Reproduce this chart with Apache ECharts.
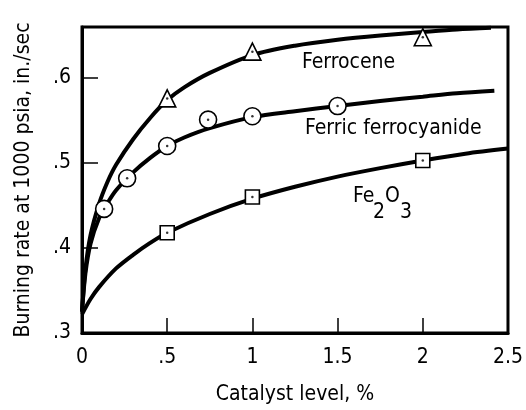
<!DOCTYPE html>
<html>
<head>
<meta charset="utf-8">
<script src="https://cdn.jsdelivr.net/npm/echarts@6/dist/echarts.min.js"></script>
<style>
  html, body { margin: 0; padding: 0; background: #fff; }
  #chart { width: 526px; height: 410px; }
</style>
</head>
<body>
<div id="chart"></div>
<script>
// Measured burning rates (in./sec at 1000 psia) versus catalyst level (%)
const ferroceneX = [0.5, 1.0, 2.0];
const ferroceneY = [0.576, 0.631, 0.648];

const ferricX = [0.13, 0.265, 0.5, 0.74, 1.0, 1.5];
const ferricY = [0.446, 0.482, 0.52, 0.551, 0.555, 0.567];

const feOxideX = [0.5, 1.0, 2.0];
const feOxideY = [0.418, 0.46, 0.503];

// Faired curves through each catalyst's data
const ferroceneCurveX = [0, 0.02, 0.05, 0.1, 0.15, 0.2, 0.3, 0.4, 0.5, 0.6, 0.75, 1.0, 1.25, 1.5, 1.75, 2.0, 2.2, 2.4];
const ferroceneCurveY = [0.325, 0.375, 0.415, 0.452, 0.478, 0.498, 0.528, 0.553, 0.574, 0.589, 0.606, 0.627, 0.638, 0.645, 0.65, 0.654, 0.657, 0.659];

const ferricCurveX = [0, 0.02, 0.05, 0.1, 0.15, 0.2, 0.3, 0.4, 0.5, 0.6, 0.75, 1.0, 1.25, 1.5, 1.75, 2.0, 2.2, 2.42];
const ferricCurveY = [0.325, 0.37, 0.405, 0.435, 0.453, 0.468, 0.489, 0.506, 0.52, 0.53, 0.541, 0.554, 0.561, 0.567, 0.573, 0.578, 0.582, 0.585];

const feOxideCurveX = [0, 0.05, 0.1, 0.2, 0.3, 0.4, 0.5, 0.75, 1.0, 1.25, 1.5, 1.75, 2.0, 2.25, 2.5];
const feOxideCurveY = [0.322, 0.34, 0.354, 0.376, 0.392, 0.406, 0.418, 0.44, 0.458, 0.472, 0.484, 0.494, 0.503, 0.511, 0.517];

const xTicks = [0, 0.5, 1, 1.5, 2, 2.5];
const yTicks = [0.3, 0.4, 0.5, 0.6];

const FONT = "'Liberation Sans Narrow', 'DejaVu Sans Condensed', 'DejaVu Sans', sans-serif";

const zip = (xs, ys) => xs.map((x, i) => [x, ys[i]]);
const trimZero = v => {
  const s = String(Math.round(v * 10) / 10);
  return s.startsWith('0.') ? s.slice(1) : s;
};

function curve(xs, ys) {
  return {
    type: 'line', data: zip(xs, ys), smooth: 0.3, showSymbol: false, silent: true,
    lineStyle: { color: '#000', width: 4 }, z: 2
  };
}
function markers(xs, ys, symbol, size) {
  return {
    type: 'scatter', data: zip(xs, ys), symbol: symbol, symbolSize: size,
    itemStyle: { color: '#fff', borderColor: '#000', borderWidth: 1.6, opacity: 1 }, z: 3
  };
}
function dots(xs, ys) {
  return {
    type: 'scatter', data: zip(xs, ys), symbol: 'circle', symbolSize: 2.5,
    itemStyle: { color: '#000' }, z: 4
  };
}

const chart = echarts.init(document.getElementById('chart'), null, { renderer: 'canvas' });
chart.setOption({
  animation: false,
  backgroundColor: '#fff',
  grid: { left: 82, right: 11, top: 27, bottom: 70, show: true, borderColor: '#000', borderWidth: 3, backgroundColor: 'transparent' },
  xAxis: {
    type: 'value', min: 0, max: 2.5, interval: 0.5,
    name: 'Catalyst level, %', nameLocation: 'middle', nameGap: 51,
    nameTextStyle: { fontFamily: FONT, fontSize: 21, color: '#000' },
    axisLine: { show: true, lineStyle: { color: '#000', width: 3 } },
    axisTick: { show: true, inside: true, length: 15, customValues: xTicks, lineStyle: { color: '#000', width: 1.5 } },
    axisLabel: { customValues: xTicks, margin: 14, fontFamily: FONT, fontSize: 21, color: '#000', formatter: trimZero },
    splitLine: { show: false }
  },
  yAxis: {
    type: 'value', min: 0.3, max: 0.66, interval: 0.1,
    name: 'Burning rate at 1000 psia, in./sec', nameLocation: 'middle', nameGap: 48,
    nameTextStyle: { fontFamily: FONT, fontSize: 21, color: '#000' },
    axisLine: { show: true, lineStyle: { color: '#000', width: 3 } },
    axisTick: { show: true, inside: true, length: 16, customValues: yTicks, lineStyle: { color: '#000', width: 1.5 } },
    axisLabel: { customValues: yTicks, margin: 11, fontFamily: FONT, fontSize: 21, color: '#000', formatter: trimZero },
    splitLine: { show: false }
  },
  series: [
    curve(ferroceneCurveX, ferroceneCurveY),
    curve(ferricCurveX, ferricCurveY),
    curve(feOxideCurveX, feOxideCurveY),
    markers(ferroceneX, ferroceneY, 'triangle', 17),
    markers(ferricX, ferricY, 'circle', 17),
    markers(feOxideX, feOxideY, 'rect', 14),
    dots(ferroceneX, ferroceneY),
    dots(ferricX, ferricY),
    dots(feOxideX, feOxideY)
  ],
  graphic: [
    { type: 'text', left: 302, top: 52, style: { text: 'Ferrocene', font: `21px ${FONT}`, fill: '#000' } },
    { type: 'text', left: 305, top: 118, style: { text: 'Ferric ferrocyanide', font: `21px ${FONT}`, fill: '#000' } },
    { type: 'text', left: 353, top: 186, style: { text: 'Fe', font: `21px ${FONT}`, fill: '#000' } },
    { type: 'text', left: 373, top: 202, style: { text: '2', font: `21px ${FONT}`, fill: '#000' } },
    { type: 'text', left: 385, top: 186, style: { text: 'O', font: `21px ${FONT}`, fill: '#000' } },
    { type: 'text', left: 400, top: 202, style: { text: '3', font: `21px ${FONT}`, fill: '#000' } }
  ]
});
</script>
</body>
</html>
